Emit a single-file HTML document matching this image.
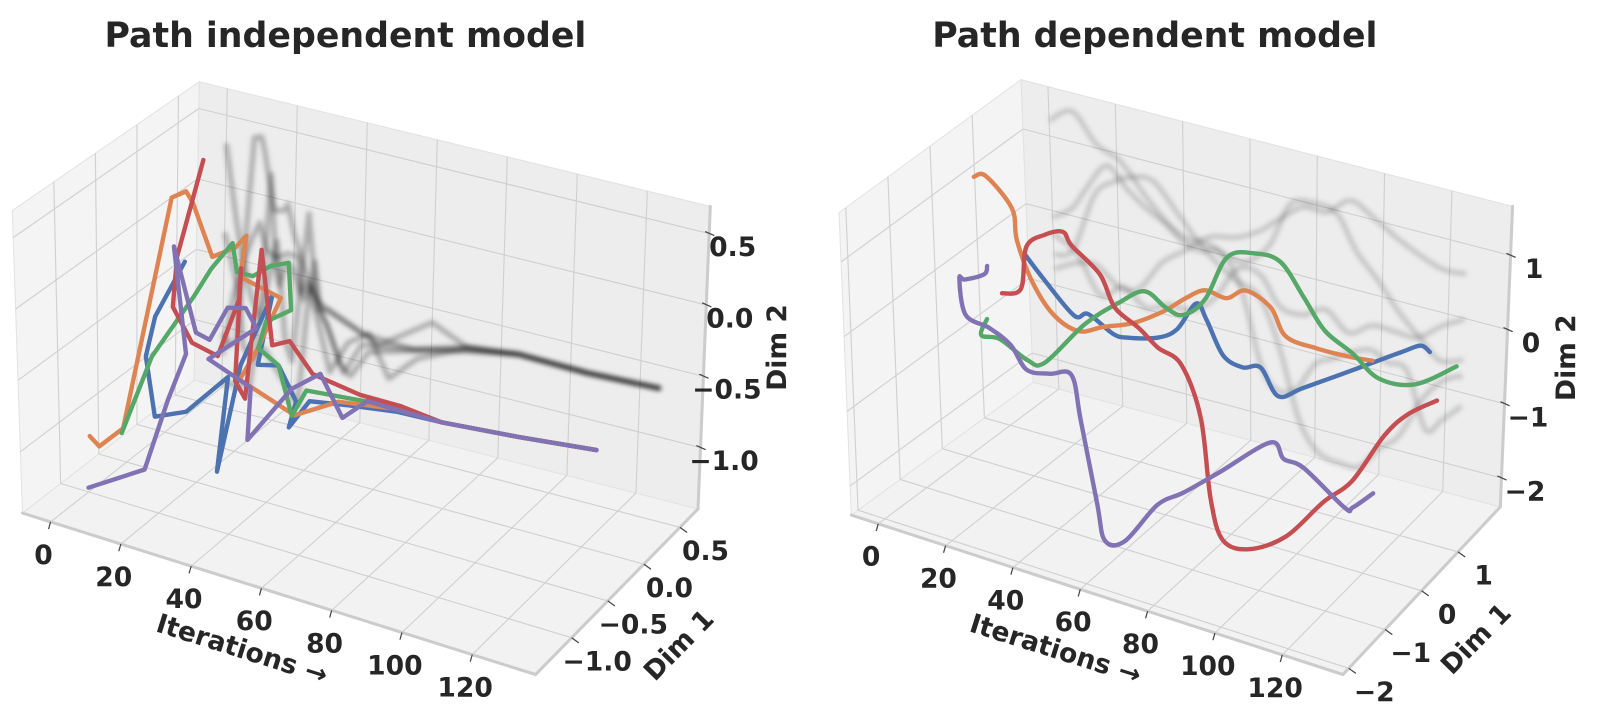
<!DOCTYPE html>
<html><head><meta charset="utf-8"><title>Path models</title>
<style>
html,body{margin:0;padding:0;background:#fff;}
svg{display:block;font-family:"DejaVu Sans","Liberation Sans",sans-serif;}
.tl{font-size:26px;font-weight:bold;fill:#262626;}
.ttl{font-size:34px;font-weight:bold;fill:#262626;}
.al{font-size:26px;font-weight:bold;fill:#262626;}
</style></head>
<body>
<svg id="chart" width="1603" height="721" viewBox="0 0 1603 721" xmlns="http://www.w3.org/2000/svg">
<defs>
<filter id="blur" x="-5%" y="-5%" width="110%" height="110%"><feGaussianBlur stdDeviation="2.4"/></filter>
</defs>
<g transform="scale(1.022)">
<text class="ttl" x="338" y="46" text-anchor="middle">Path independent model</text>
<text class="ttl" x="1130" y="46" text-anchor="middle">Path dependent model</text>
<g id="left"></g>
<g id="right"></g>
<text class="al" x="237" y="644" text-anchor="middle" transform="rotate(17.5 237 635)">Iterations →</text>
<text class="al" x="664" y="640" text-anchor="middle" transform="rotate(-45.5 664 631)">Dim 1</text>
<text class="al" x="760" y="349" text-anchor="middle" transform="rotate(-90 760 340)">Dim 2</text>
<text class="al" x="1033" y="644" text-anchor="middle" transform="rotate(17.5 1033 635)">Iterations →</text>
<text class="al" x="1444" y="634" text-anchor="middle" transform="rotate(-45.5 1444 625)">Dim 1</text>
<text class="al" x="1532" y="359" text-anchor="middle" transform="rotate(-90 1532 350)">Dim 2</text>
</g>
</svg>
<script>
// ---------- data: left panel (path independent) ----------
const iterTicks = [0, 20, 40, 60, 80, 100, 120];
const leftDim1Ticks = [-1.0, -0.5, 0.0, 0.5];
const leftDim2Ticks = [-1.0, -0.5, 0.0, 0.5];
const rightDim1Ticks = [-2, -1, 0, 1];
const rightDim2Ticks = [-2, -1, 0, 1];
const seriesNames = ['blue', 'orange', 'green', 'red', 'purple'];

const leftBlueT  = [0,2,4,6,9,12,22,24,26,28,30,34,37,42,55,70,85,105,126];
const leftBlueD1 = [0.25,-0.21,-0.42,-0.40,-0.13,0.28,-0.32,-0.10,0.21,-0.06,0.12,0.17,-0.06,-0.02,-0.09,-0.16,-0.25,-0.16,-0.10];
const leftBlueD2 = [-0.33,-0.51,-0.69,-1.11,-1.17,-1.08,-1.42,-0.75,-0.38,-0.74,-0.81,-1.06,-1.12,-0.92,-0.83,-0.74,-0.67,-0.68,-0.66];

const leftOrangeT  = [0,2,4,8,10,11,14,17,18,20,24,27,30,45,60,70,85,105,126];
const leftOrangeD1 = [-0.97,-0.94,-0.72,-0.26,-0.17,-0.13,-0.02,0.14,0.23,0.07,0.41,-0.01,-0.38,-0.35,-0.46,-0.18,-0.25,-0.16,-0.10];
const leftOrangeD2 = [-1.05,-1.12,-1.07,0.39,0.41,0.32,-0.09,-0.07,-0.02,-0.23,-0.50,-0.65,-0.69,-0.85,-0.60,-0.71,-0.67,-0.68,-0.66];

const leftGreenT  = [0,3,6,8,10,12,15,18,21,23,25,27,30,35,40,55,70,85,105,126];
const leftGreenD1 = [-0.56,-0.30,0.11,0.23,0.41,0.38,0.45,0.55,0.64,0.59,0.18,-0.01,0.12,0.07,0.03,-0.02,-0.15,-0.25,-0.16,-0.10];
const leftGreenD2 = [-1.20,-0.75,-0.47,-0.32,-0.20,-0.38,-0.42,-0.37,-0.37,-0.67,-0.56,-0.65,-0.81,-1.11,-0.88,-0.82,-0.71,-0.67,-0.68,-0.66];

const leftRedT  = [0,3,5,8,11,13,15,18,20,24,27,30,40,55,70,85,105,126];
const leftRedD1 = [0.47,0.02,-0.12,-0.01,0.19,0.37,0.30,0.10,0.14,0.16,0.17,0.26,0.11,0.05,-0.10,-0.25,-0.16,-0.10];
const leftRedD2 = [0.30,-0.18,-0.46,-0.74,-0.90,-0.56,-0.30,-0.99,-1.12,-0.05,-0.71,-0.70,-0.80,-0.82,-0.73,-0.67,-0.68,-0.66];

const leftPurpleT  = [0,8,10,11,13,15,16,18,20,22,24,28,31,36,42,48,56,70,85,105,126];
const leftPurpleD1 = [-1.00,-0.63,-0.41,-0.22,-0.45,-0.27,-0.14,0.00,0.14,0.19,-0.51,-0.15,-0.33,0.02,0.12,0.14,0.10,-0.17,-0.25,-0.16,-0.10];
const leftPurpleD2 = [-1.40,-1.37,-0.96,-0.71,0.16,-0.51,-0.61,-0.43,-0.48,-0.63,-0.53,-0.86,-1.13,-0.89,-0.79,-1.07,-0.88,-0.72,-0.67,-0.68,-0.66];

// ---------- data: right panel (path dependent) ----------
const rightBlueT  = [0,7,14,21,28,35,42,49,56,63,69,76,83,90,97,104,111,118,125];
const rightBlueD1 = [1.49,1.36,1.52,1.32,1.36,1.17,1.34,1.25,1.16,0.85,0.76,0.67,0.54,0.40,0.44,1.11,1.78,1.65,1.29];
const rightBlueD2 = [-0.31,-0.49,-0.97,-0.78,-0.98,-0.86,-0.85,-0.61,-0.14,-0.13,-0.49,-0.52,-0.37,-0.60,-0.42,-0.42,-0.42,-0.19,-0.01];

const rightOrangeT  = [0,7,14,21,28,35,42,49,56,63,69,76,83,90,97,104,111,118,125];
const rightOrangeD1 = [0.37,0.11,0.15,-0.30,-0.52,-0.60,-0.56,-0.52,-0.35,-0.17,-0.12,-0.21,-0.26,-0.35,-0.32,-0.53,-0.36,-0.17,-0.14];
const rightOrangeD2 = [1.20,1.41,1.05,0.91,0.55,0.24,0.09,0.22,0.29,0.46,0.69,0.93,0.94,1.18,1.03,0.84,0.69,0.58,0.60];

const rightGreenT  = [0,7,13,20,26,33,39,46,53,59,66,72,79,86,92,99,105,112,118,125];
const rightGreenD1 = [0.55,-0.13,-0.16,-0.08,-0.13,0.30,0.64,0.72,0.66,0.60,0.58,0.64,0.73,0.80,0.88,0.82,1.02,1.10,1.53,1.99];
const rightGreenD2 = [-0.78,-0.62,-0.58,-0.80,-0.74,-0.32,-0.11,0.10,0.00,0.00,0.31,0.92,1.02,0.96,0.52,0.19,-0.14,-0.43,-0.65,-0.56];

const rightRedT  = [0,6,13,19,25,31,38,44,50,56,63,69,75,81,88,94,100,106,113,119,125];
const rightRedD1 = [0.92,0.91,0.53,0.50,0.47,0.20,0.30,0.16,0.25,0.22,0.22,0.19,-0.09,-0.30,-0.22,0.24,0.70,0.94,1.17,1.27,1.50];
const rightRedD2 = [-0.59,-0.45,0.36,0.61,0.74,0.75,0.41,0.11,-0.13,-0.30,-0.44,-1.06,-1.94,-2.31,-2.38,-2.35,-2.04,-1.80,-1.22,-0.91,-0.77];

const rightPurpleT  = [0,6,11,17,23,28,34,40,45,51,57,63,68,74,80,85,91,97,102,108,114,119,125];
const rightPurpleD1 = [0.60,0.07,-0.77,-1.36,-1.71,-1.56,-1.54,-1.65,-1.50,-1.46,-1.75,-1.91,-2.16,-2.16,-1.82,-1.57,-1.16,-0.38,-0.47,-0.47,0.06,-0.16,-0.14];
const rightPurpleD2 = [-0.09,0.10,0.45,0.80,0.55,0.38,0.23,0.03,-0.02,0.03,-0.36,-1.31,-1.62,-1.54,-1.13,-1.01,-0.85,-0.75,-0.86,-0.90,-1.62,-1.44,-1.18];

// ---------- rendering ----------
const NS = 'http://www.w3.org/2000/svg';
const COLORS = {blue:'#4c72b0', orange:'#dd8452', green:'#55a868', red:'#c44e52', purple:'#8172b3'};

const panels = {
  left: {
    c: {flb:[22,502], frb:[524,660], brb:[683,498], blb:[190,372], flt:[12,206], frt:[516,364], brt:[695,202], blt:[195,80]},
    x: [-8,138], y: [-1.5,0.75], z: [-1.43,0.69],
    yTicks: leftDim1Ticks, zTicks: leftDim2Ticks, fmt: v => (v<0?'\u2212':'') + Math.abs(v).toFixed(1),
    smooth: false, shadowOpacity: 0.28,
    series: {
      blue:[leftBlueT,leftBlueD1,leftBlueD2], orange:[leftOrangeT,leftOrangeD1,leftOrangeD2],
      green:[leftGreenT,leftGreenD1,leftGreenD2], red:[leftRedT,leftRedD1,leftRedD2],
      purple:[leftPurpleT,leftPurpleD1,leftPurpleD2]
    }
  },
  right: {
    c: {flb:[833,504], frb:[1314,660], brb:[1468,496], blb:[1011,374], flt:[821,208], frt:[1302,364], brt:[1480,202], blt:[999,78]},
    x: [-8,138], y: [-2.16,2.16], z: [-2.39,1.66],
    yTicks: rightDim1Ticks, zTicks: rightDim2Ticks, fmt: v => (v<0?'\u2212':'') + Math.abs(v).toFixed(0),
    smooth: true, shadowOpacity: 0.17,
    series: {
      blue:[rightBlueT,rightBlueD1,rightBlueD2], orange:[rightOrangeT,rightOrangeD1,rightOrangeD2],
      green:[rightGreenT,rightGreenD1,rightGreenD2], red:[rightRedT,rightRedD1,rightRedD2],
      purple:[rightPurpleT,rightPurpleD1,rightPurpleD2]
    }
  }
};

function lerp(a,b,t){ return [a[0]+(b[0]-a[0])*t, a[1]+(b[1]-a[1])*t]; }
function tri(c,u,v,w){
  const b = lerp(lerp(c.flb,c.frb,u), lerp(c.blb,c.brb,u), v);
  const t = lerp(lerp(c.flt,c.frt,u), lerp(c.blt,c.brt,u), v);
  return lerp(b,t,w);
}
function norm(r,val){ return (val-r[0])/(r[1]-r[0]); }
function proj(p,t,d1,d2){ return tri(p.c, norm(p.x,t), norm(p.y,d1), norm(p.z,d2)); }

function mk(tag, attrs, parent){
  const e = document.createElementNS(NS, tag);
  for (const k in attrs) e.setAttribute(k, attrs[k]);
  parent.appendChild(e);
  return e;
}
function pl(pts){ return pts.map(q=>q[0].toFixed(1)+','+q[1].toFixed(1)).join(' '); }
function pathD(pts, smooth){
  if (!smooth) return 'M' + pts.map(q=>q[0].toFixed(1)+' '+q[1].toFixed(1)).join(' L');
  let d = 'M'+pts[0][0].toFixed(1)+' '+pts[0][1].toFixed(1);
  for (let i=0;i<pts.length-1;i++){
    const p0=pts[Math.max(0,i-1)], p1=pts[i], p2=pts[i+1], p3=pts[Math.min(pts.length-1,i+2)];
    const c1=[p1[0]+(p2[0]-p0[0])/6, p1[1]+(p2[1]-p0[1])/6];
    const c2=[p2[0]-(p3[0]-p1[0])/6, p2[1]-(p3[1]-p1[1])/6];
    d += ' C'+c1[0].toFixed(1)+' '+c1[1].toFixed(1)+' '+c2[0].toFixed(1)+' '+c2[1].toFixed(1)+' '+p2[0].toFixed(1)+' '+p2[1].toFixed(1);
  }
  return d;
}

function drawPanel(key){
  const p = panels[key];
  const g = document.getElementById(key);
  const c = p.c;
  const floor = mk('polygon', {points: pl([c.flb,c.frb,c.brb,c.blb]), fill:'#f2f2f2', stroke:'#e2e2e2', 'stroke-width':1}, g);
  
  
  const lwall = mk('polygon', {points: pl([c.flb,c.blb,c.blt,c.flt]), fill:'#f4f4f4', stroke:'#e2e2e2', 'stroke-width':1}, g);
  
  
  const bwall = mk('polygon', {points: pl([c.blb,c.brb,c.brt,c.blt]), fill:'#ededed', stroke:'#e2e2e2', 'stroke-width':1}, g);
  
  

  const grid = mk('g', {stroke:'#d0d0d0', 'stroke-width':1.1, fill:'none'}, g);
  
  
  const gl = (a,b) => mk('line', {x1:a[0],y1:a[1],x2:b[0],y2:b[1]}, grid);
  iterTicks.forEach(t => {
    const u = norm(p.x,t);
    gl(tri(c,u,0,0), tri(c,u,1,0));
    gl(tri(c,u,1,0), tri(c,u,1,1));
  });
  p.yTicks.forEach(d => {
    const v = norm(p.y,d);
    gl(tri(c,0,v,0), tri(c,1,v,0));
    gl(tri(c,0,v,0), tri(c,0,v,1));
  });
  p.zTicks.forEach(d => {
    const w = norm(p.z,d);
    gl(tri(c,0,1,w), tri(c,1,1,w));
    gl(tri(c,0,0,w), tri(c,0,1,w));
  });

  const edges = mk('g', {stroke:'#cccccc', 'stroke-width':3, fill:'none', 'stroke-linecap':'round'}, g);
  
  
  mk('line', {x1:c.flb[0],y1:c.flb[1],x2:c.frb[0],y2:c.frb[1]}, edges);
  mk('line', {x1:c.frb[0],y1:c.frb[1],x2:c.brb[0],y2:c.brb[1]}, edges);
  mk('line', {x1:c.brb[0],y1:c.brb[1],x2:c.brt[0],y2:c.brt[1]}, edges);

  const tg = mk('g', {}, g);
  
  
  iterTicks.forEach(t => {
    const a = tri(c, norm(p.x,t), 0, 0);
    mk('line', {x1:a[0],y1:a[1],x2:a[0]-2,y2:a[1]+7, stroke:'#444', 'stroke-width':1.2}, tg);
    const tx = mk('text', {x:a[0]-7, y:a[1]+41, class:'tl', 'text-anchor':'middle'}, tg);
    tx.textContent = String(t);
    
    
  });
  p.yTicks.forEach(d => {
    const a = tri(c, 1, norm(p.y,d), 0);
    mk('line', {x1:a[0],y1:a[1],x2:a[0]+7,y2:a[1]+5, stroke:'#444', 'stroke-width':1.2}, tg);
    const tx = mk('text', {x:a[0]+25, y:a[1]+32, class:'tl', 'text-anchor':'middle'}, tg);
    tx.textContent = p.fmt(d);
    
    
  });
  p.zTicks.forEach(d => {
    const a = tri(c, 1, 1, norm(p.z,d));
    mk('line', {x1:a[0]-4,y1:a[1]-2,x2:a[0]+5,y2:a[1]+2, stroke:'#444', 'stroke-width':1.2}, tg);
    const tx = mk('text', {x:a[0]+23, y:a[1]+22, class:'tl', 'text-anchor':'middle'}, tg);
    tx.textContent = p.fmt(d);
    
    
  });

  const sg = mk('g', {filter:'url(#blur)', fill:'none', stroke:'#000', 'stroke-opacity':p.shadowOpacity, 'stroke-width':5, 'stroke-linejoin':'round'}, g);
  
  
  seriesNames.forEach(n => {
    const [T,D1,D2] = p.series[n];
    const pts = T.map((t,i) => proj(p, t, p.y[1], D2[i]));
    const s = mk('path', {d: pathD(pts, p.smooth)}, sg);
    
    
  });

  seriesNames.forEach(n => {
    const [T,D1,D2] = p.series[n];
    const pts = T.map((t,i) => proj(p, t, D1[i], D2[i]));
    const s = mk('path', {d: pathD(pts, p.smooth), fill:'none', stroke:COLORS[n], 'stroke-width':4.3, 'stroke-linejoin':'round', 'stroke-linecap':'round'}, g);
    
    
  });
}
drawPanel('left');
drawPanel('right');
</script>
</body></html>
